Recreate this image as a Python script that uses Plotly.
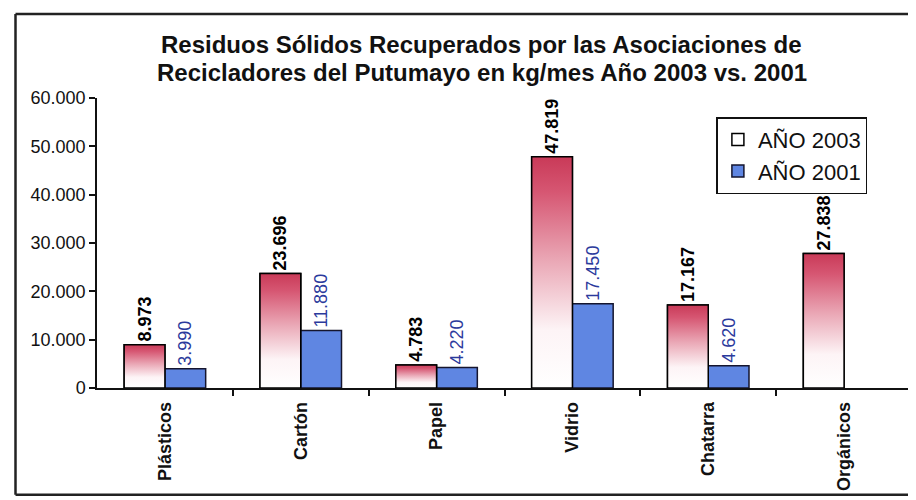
import plotly.graph_objects as go

# ---- data ----
categories = ["Plásticos", "Cartón", "Papel", "Vidrio", "Chatarra", "Orgánicos"]
anio_2003 = [8973, 23696, 4783, 47819, 17167, 27838]
anio_2001 = [3990, 11880, 4220, 17450, 4620, None]
y_tick_values = [0, 10000, 20000, 30000, 40000, 50000, 60000]
y_tick_labels = ["0", "10.000", "20.000", "30.000", "40.000", "50.000", "60.000"]
series_names = ["AÑO 2003", "AÑO 2001"]
title_lines = ["Residuos Sólidos Recuperados por las Asociaciones de",
               "Recicladores del Putumayo en kg/mes Año 2003 vs. 2001"]


def fmt(v):
    return "" if v is None else f"{v:,}".replace(",", ".")


FONT = "Liberation Sans, Arial, sans-serif"
BAR_W = 0.3
RED_SCALE = [[0.0, "#ffffff"], [0.25, "#fdf4f6"], [0.55, "#eaa8b6"],
             [0.85, "#d65672"], [1.0, "#c93a58"]]
BLUE = "#5f86e2"

pos = list(range(len(categories)))
fig = go.Figure()

# gradient fills for the 2003 bars (one per bar, gradient relative to its own height)
for i, v in zip(pos, anio_2003):
    x0, x1 = i - BAR_W, i
    fig.add_trace(go.Scatter(
        x=[x0, x0, x1, x1, x0], y=[0, v, v, 0, 0],
        mode="lines", fill="toself",
        fillgradient=dict(type="vertical", colorscale=RED_SCALE, start=0, stop=v),
        line=dict(color="black", width=1.5),
        showlegend=False, hoverinfo="skip"))

fig.add_trace(go.Bar(
    x=pos, y=anio_2003, width=BAR_W, offset=-BAR_W, name=series_names[0],
    marker=dict(color="rgba(255,255,255,0)", line=dict(color="black", width=1.5)),
    text=[fmt(v) for v in anio_2003], textposition="outside", textangle=-90,
    constraintext="none",
    textfont=dict(family=FONT, size=18, color="black", weight="bold"),
    cliponaxis=False))

fig.add_trace(go.Bar(
    x=pos, y=anio_2001, width=BAR_W, offset=0, name=series_names[1],
    marker=dict(color=BLUE, line=dict(color="#15152e", width=1.5)),
    text=[fmt(v) for v in anio_2001], textposition="outside", textangle=-90,
    constraintext="none",
    textfont=dict(family=FONT, size=18, color="#2b3a9c"),
    cliponaxis=False))

# page body has an 8px margin: figure is 908x492 so it fills the 916x500 window
OFF = 8
title_annotations = [
    dict(text=line, xref="paper", yref="paper", x=0.472, y=yv,
         xanchor="center", yanchor="middle", showarrow=False,
         font=dict(family=FONT, size=24, color="#111", weight="bold"))
    for line, yv in zip(title_lines, [(388 - 45) / 290, (388 - 72) / 290])
]

# outer frame (paper coordinates)
fx0, fx1, fy0, fy1 = -0.1, 0.997, -0.368, 1.29
frame_lines = [
    dict(type="line", xref="paper", yref="paper", x0=a, y0=b, x1=c, y1=d,
         line=dict(color="#222", width=2.5), layer="above")
    for a, b, c, d in [(fx0, fy1, fx1, fy1), (fx0, fy0, fx1, fy0),
                       (fx0, fy0, fx0, fy1), (fx1, fy0, fx1, fy1)]
]

fig.update_layout(
    width=916 - OFF, height=500 - OFF,
    margin=dict(l=97 - OFF, r=4, t=98 - OFF, b=112),
    paper_bgcolor="white", plot_bgcolor="rgba(0,0,0,0)",
    barmode="overlay",
    font=dict(family=FONT, color="#111"),
    showlegend=True,
    legend=dict(x=0.76, y=0.934, xanchor="left", yanchor="top",
                bordercolor="#111", borderwidth=1.5, bgcolor="white",
                font=dict(family=FONT, size=22, color="#111"),
                tracegroupgap=0),
    xaxis=dict(range=[-0.5, len(categories) - 0.5], tickmode="array",
               tickvals=pos, ticktext=categories, ticks="", tickangle=-90,
               ticklabelstandoff=5,
               tickfont=dict(family=FONT, size=18, color="#111", weight="bold"),
               showline=True, linecolor="#111", linewidth=1.5,
               showgrid=False, zeroline=False,
               minor=dict(tickmode="array",
                          tickvals=[i + 0.5 for i in pos[:-1]],
                          ticks="outside", ticklen=6, tickcolor="#111",
                          tickwidth=1.5, showgrid=False)),
    yaxis=dict(range=[0, 60000], tickmode="array", tickvals=y_tick_values,
               ticktext=y_tick_labels, ticks="outside", ticklen=6,
               tickcolor="#111", tickwidth=1.5,
               tickfont=dict(family=FONT, size=18, color="#111"),
               showline=True, linecolor="#111", linewidth=1.5,
               showgrid=False, zeroline=False),
    annotations=title_annotations,
    shapes=frame_lines,
)

fig.write_html("out.html")
